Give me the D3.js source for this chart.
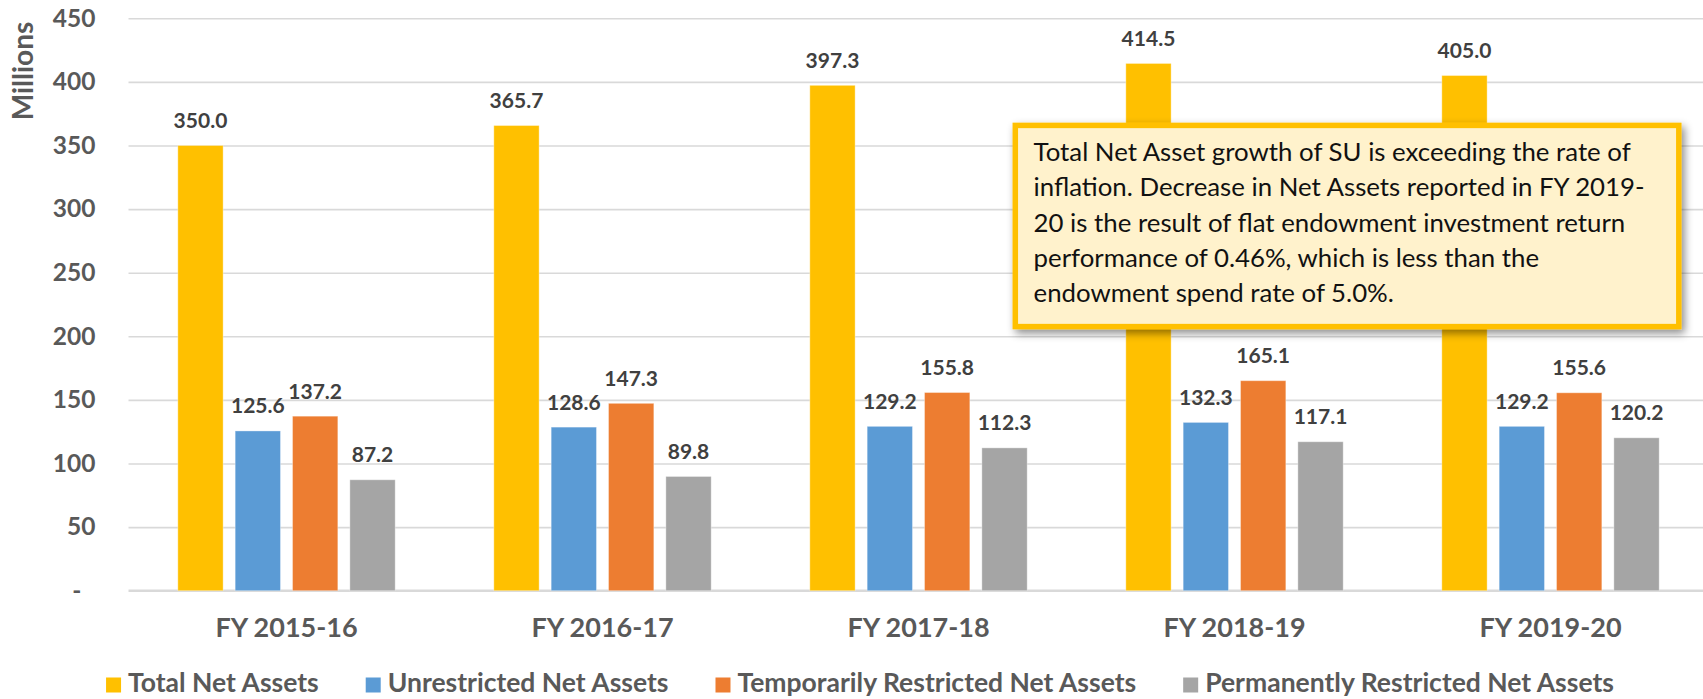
<!DOCTYPE html>
<html>
<head>
<meta charset="utf-8">
<script src="https://cdn.jsdelivr.net/npm/d3@7"></script>
<style>
  body { margin: 0; background: #fff; }
  svg { display: block; }
  text { font-family: Lato, "Open Sans", sans-serif; }
</style>
</head>
<body>
<svg id="mainSvg" width="1703" height="699"></svg>
<script>
var years = ["FY 2015-16", "FY 2016-17", "FY 2017-18", "FY 2018-19", "FY 2019-20"];
var seriesNames = ["Total Net Assets", "Unrestricted Net Assets", "Temporarily Restricted Net Assets", "Permanently Restricted Net Assets"];
var totalNet = [350.0, 365.7, 397.3, 414.5, 405.0];
var unrestricted = [125.6, 128.6, 129.2, 132.3, 129.2];
var tempRestricted = [137.2, 147.3, 155.8, 165.1, 155.6];
var permRestricted = [87.2, 89.8, 112.3, 117.1, 120.2];
var yTicks = [0, 50, 100, 150, 200, 250, 300, 350, 400, 450];
var colors = ["#FFC000", "#5B9BD5", "#ED7D31", "#A5A5A5"];
var noteLines = [
  "Total Net Asset growth of SU is exceeding the rate of",
  "inflation. Decrease in Net Assets reported in FY 2019-",
  "20 is the result of flat endowment investment return",
  "performance of 0.46%, which is less than the",
  "endowment spend rate of 5.0%."
];

var seriesValues = [totalNet, unrestricted, tempRestricted, permRestricted];

var plot = {left: 128.5, right: 1708.5, top: 18.3, bottom: 590.7};
var svg = d3.select("#mainSvg");

var x0 = d3.scaleBand().domain(years).range([plot.left, plot.right]);
var x1 = d3.scaleBand().domain(seriesNames).range([0, x0.bandwidth()]).paddingInner(0.21).paddingOuter(0.86);
var y = d3.scaleLinear().domain([0, 450]).range([plot.bottom, plot.top]);

// gridlines
var grid = svg.append("g")
  .attr("transform", "translate(" + plot.left + ",0)")
  .call(d3.axisLeft(y).tickValues(yTicks.slice(1)).tickSize(-(plot.right - plot.left)).tickFormat(""));
grid.select(".domain").remove();
grid.selectAll("line").attr("stroke", "#D9D9D9").attr("stroke-width", 1.6);

svg.append("line")
  .attr("x1", plot.left).attr("x2", plot.right)
  .attr("y1", y(0)).attr("y2", y(0))
  .attr("stroke", "#D9D9D9").attr("stroke-width", 2.4);

// y axis labels
var yAxis = svg.append("g")
  .attr("transform", "translate(" + plot.left + ",0)")
  .call(d3.axisLeft(y).tickValues(yTicks).tickSize(0).tickPadding(33)
    .tickFormat(function(d) { return d == 0 ? "-" : d; }));
yAxis.select(".domain").remove();
yAxis.selectAll("text")
  .attr("fill", "#595959").attr("font-size", 24.5).attr("font-weight", "bold")
  .attr("font-family", "Lato")
  .attr("dx", function(d) { return d == 0 ? -14 : 0; });

svg.append("text")
  .attr("transform", "translate(32.5,71) rotate(-90)")
  .attr("text-anchor", "middle")
  .attr("fill", "#595959").attr("font-size", 28).attr("font-weight", "bold")
  .text("Millions");

// x axis labels
var xAxis = svg.append("g")
  .attr("transform", "translate(0," + plot.bottom + ")")
  .call(d3.axisBottom(x0).tickSize(0));
xAxis.select(".domain").remove();
xAxis.selectAll("text")
  .attr("y", 37).attr("dy", "0.35em")
  .attr("fill", "#595959").attr("font-size", 27).attr("font-weight", "bold")
  .attr("font-family", "Lato");

// bars
var groups = svg.append("g").selectAll("g")
  .data(years)
  .join("g")
  .attr("transform", function(d) { return "translate(" + x0(d) + ",0)"; });

groups.selectAll("rect")
  .data(function(d, i) {
    return seriesNames.map(function(s, k) { return {series: s, k: k, value: seriesValues[k][i]}; });
  })
  .join("rect")
  .attr("x", function(d) { return x1(d.series); })
  .attr("width", x1.bandwidth())
  .attr("y", function(d) { return y(d.value); })
  .attr("height", function(d) { return y(0) - y(d.value); })
  .attr("fill", function(d) { return colors[d.k]; })
  .attr("stroke", "#fff").attr("stroke-opacity", 0.35).attr("stroke-width", 1);

groups.selectAll("text.val")
  .data(function(d, i) {
    return seriesNames.map(function(s, k) { return {series: s, k: k, value: seriesValues[k][i]}; });
  })
  .join("text")
  .attr("class", "val")
  .attr("x", function(d) { return x1(d.series) + x1.bandwidth() / 2; })
  .attr("y", function(d) { return y(d.value) - 17.5; })
  .attr("text-anchor", "middle")
  .attr("fill", "#404040").attr("font-size", 21).attr("font-weight", "bold")
  .text(function(d) { return d3.format(".1f")(d.value); });

// annotation box
var defs = svg.append("defs");
var filt = defs.append("filter").attr("id", "shadow")
  .attr("x", "-10%").attr("y", "-10%").attr("width", "120%").attr("height", "130%");
filt.append("feDropShadow")
  .attr("dx", 3).attr("dy", 4).attr("stdDeviation", 4)
  .attr("flood-color", "#000").attr("flood-opacity", 0.45);

var note = svg.append("g");
note.append("rect")
  .attr("x", 1015.3).attr("y", 125.4).attr("width", 663.5).attr("height", 201.2)
  .attr("fill", "#FFF2CC").attr("stroke", "#FFC000").attr("stroke-width", 5.5)
  .attr("filter", "url(#shadow)");
note.selectAll("text")
  .data(noteLines)
  .join("text")
  .attr("x", 1033.6)
  .attr("y", function(d, i) { return 161 + i * 35.3; })
  .attr("fill", "#111").attr("font-size", 25.8)
  .text(function(d) { return d; });

// legend
var legend = svg.append("g");
var items = legend.selectAll("g")
  .data(seriesNames)
  .join("g");
items.append("rect")
  .attr("width", 15).attr("height", 15)
  .attr("y", 677.5)
  .attr("fill", function(d, i) { return colors[i]; });
items.append("text")
  .attr("x", 22).attr("y", 692.3)
  .attr("fill", "#595959").attr("font-size", 26.5).attr("font-weight", "bold")
  .text(function(d) { return d; });

var offsets = [];
var pos = 0;
items.each(function(d, i) {
  offsets.push(pos);
  pos += 22 + d3.select(this).select("text").node().getComputedTextLength() + 47;
});
var total = pos - 47;
var startX = 860 - total / 2;
items.attr("transform", function(d, i) { return "translate(" + (startX + offsets[i]) + ",0)"; });
</script>
</body>
</html>
